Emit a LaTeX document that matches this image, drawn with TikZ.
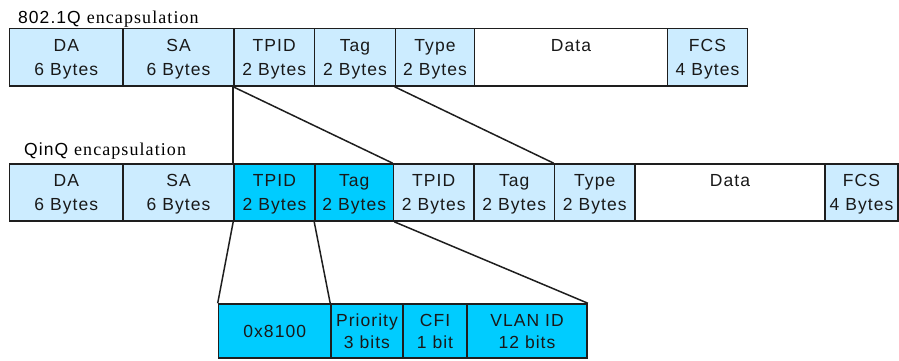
\documentclass[tikz,border=0pt]{standalone}
\usepackage{fontspec}
\setmainfont{Liberation Sans}
\newfontfamily\labfont[LetterSpace=6]{Liberation Sans}
\newfontfamily\serfont[LetterSpace=6]{Liberation Serif}
\definecolor{lblue}{RGB}{204,236,255}
\definecolor{cyanb}{RGB}{0,204,255}
\definecolor{edge}{RGB}{30,30,30}
\tikzset{
  cell/.style={draw=edge, line width=1.6pt, fill=lblue, inner sep=0pt, align=center,
    text depth=-4pt, font=\labfont\fontsize{17.5}{24.5}\selectfont, text=black!90},
  hot/.style={cell, fill=cyanb},
  blank/.style={cell, fill=white},
  small/.style={hot, text depth=-2pt, font=\labfont\fontsize{17.5}{22}\selectfont},
  link/.style={draw=edge, line width=1.5pt},
  title/.style={anchor=base west, inner sep=0pt}
}
\begin{document}
\begin{tikzpicture}[x=1pt,y=-1pt]
\useasboundingbox (0,0) rectangle (899,360);
% titles
\node[title] (t1) at (18,23) {\labfont\fontsize{17.5}{18}\selectfont 802.1Q \serfont\fontsize{18}{18}\selectfont encapsulation};
\node[title] (t2) at (24,155) {\labfont\fontsize{17.5}{18}\selectfont QinQ \serfont\fontsize{18}{18}\selectfont encapsulation};
% row 1
\node[cell, minimum width=113.5pt, minimum height=57.5pt] (a1) at (66.25,57.25) {DA\\6 Bytes};
\node[cell, minimum width=111pt, minimum height=57.5pt] (a2) at (178.5,57.25) {SA\\6 Bytes};
\node[cell, minimum width=80.5pt, minimum height=57.5pt] (a3) at (274.25,57.25) {TPID\\2 Bytes};
\node[cell, minimum width=81pt, minimum height=57.5pt] (a4) at (355,57.25) {Tag\\2 Bytes};
\node[cell, minimum width=79pt, minimum height=57.5pt] (a5) at (435,57.25) {Type\\2 Bytes};
\node[blank, minimum width=193pt, minimum height=57.5pt] (a6) at (571,57.25) {Data\\\mbox{}};
\node[cell, minimum width=80pt, minimum height=57.5pt] (a7) at (707.5,57.25) {FCS\\4 Bytes};
% row 2
\node[cell, minimum width=113.5pt, minimum height=57pt] (b1) at (66.25,192.5) {DA\\6 Bytes};
\node[cell, minimum width=111pt, minimum height=57pt] (b2) at (178.5,192.5) {SA\\6 Bytes};
\node[hot, minimum width=81pt, minimum height=57pt] (b3) at (274.5,192.5) {TPID\\2 Bytes};
\node[hot, minimum width=78.5pt, minimum height=57pt] (b4) at (354.25,192.5) {Tag\\2 Bytes};
\node[cell, minimum width=80.5pt, minimum height=57pt] (b5) at (433.75,192.5) {TPID\\2 Bytes};
\node[cell, minimum width=80.5pt, minimum height=57pt] (b6) at (514.25,192.5) {Tag\\2 Bytes};
\node[cell, minimum width=80.5pt, minimum height=57pt] (b7) at (594.75,192.5) {Type\\2 Bytes};
\node[blank, minimum width=190pt, minimum height=57pt] (b8) at (730,192.5) {Data\\\mbox{}};
\node[cell, minimum width=73pt, minimum height=57pt] (b9) at (861.5,192.5) {FCS\\4 Bytes};
% row 3
\node[small, minimum width=112.5pt, minimum height=54pt] (c1) at (274.75,331) {0x8100};
\node[small, minimum width=72pt, minimum height=54pt] (c2) at (367,331) {Priority\\3 bits};
\node[small, minimum width=64pt, minimum height=54pt] (c3) at (435,331) {CFI\\1 bit};
\node[small, minimum width=120pt, minimum height=54pt] (c4) at (527,331) {VLAN ID\\12 bits};
% connectors
\draw[link] (a3.south west) -- (b3.north west);
\draw[link] (a3.south west) -- (b5.north west);
\draw[link] (a5.south west) -- (b7.north west);
\draw[link] (b3.south west) -- (c1.north west);
\draw[link] (b4.south west) -- (c2.north west);
\draw[link] (b4.south east) -- (c4.north east);
\end{tikzpicture}
\end{document}
